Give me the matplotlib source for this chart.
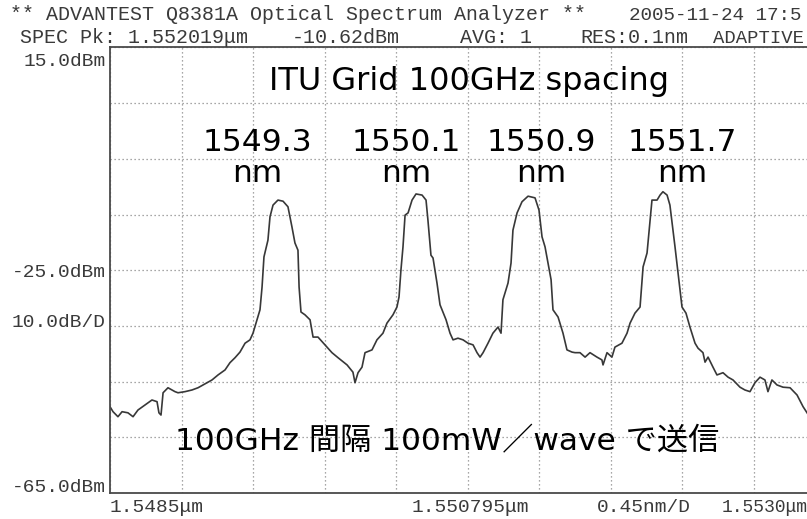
import matplotlib.pyplot as plt
import numpy as np

# Trace (wavelength in nm, power in dBm)
wavelength_nm = [
    1548.500, 1548.519, 1548.550, 1548.576, 1548.613, 1548.645, 1548.676, 1548.720,
    1548.764, 1548.796, 1548.808, 1548.821, 1548.834, 1548.865, 1548.909, 1548.928,
    1548.972, 1549.016, 1549.054, 1549.098, 1549.142, 1549.180, 1549.224, 1549.255,
    1549.287, 1549.318, 1549.350, 1549.381, 1549.400, 1549.425, 1549.444, 1549.457,
    1549.469, 1549.494, 1549.507, 1549.526, 1549.557, 1549.589, 1549.620, 1549.645,
    1549.664, 1549.683, 1549.690, 1549.702, 1549.727, 1549.759, 1549.778, 1549.809,
    1549.853, 1549.897, 1549.935, 1549.992, 1550.029, 1550.042, 1550.061, 1550.086,
    1550.105, 1550.149, 1550.180, 1550.218, 1550.243, 1550.281, 1550.306, 1550.319,
    1550.331, 1550.344, 1550.357, 1550.376, 1550.401, 1550.426, 1550.464, 1550.489,
    1550.501, 1550.520, 1550.533, 1550.558, 1550.577, 1550.615, 1550.640, 1550.659,
    1550.690, 1550.722, 1550.753, 1550.785, 1550.810, 1550.829, 1550.848, 1550.879,
    1550.910, 1550.942, 1550.961, 1550.973, 1551.005, 1551.024, 1551.036, 1551.062,
    1551.093, 1551.131, 1551.175, 1551.200, 1551.219, 1551.238, 1551.257, 1551.276,
    1551.288, 1551.320, 1551.351, 1551.376, 1551.408, 1551.427, 1551.458, 1551.490,
    1551.521, 1551.565, 1551.596, 1551.603, 1551.628, 1551.659, 1551.678, 1551.722,
    1551.754, 1551.773, 1551.804, 1551.836, 1551.855, 1551.880, 1551.899, 1551.911,
    1551.943, 1551.962, 1551.980, 1552.006, 1552.024, 1552.056, 1552.075, 1552.100,
    1552.125, 1552.150, 1552.182, 1552.201, 1552.232, 1552.245, 1552.264, 1552.295,
    1552.320, 1552.358, 1552.390, 1552.421, 1552.465, 1552.496, 1552.528, 1552.559,
    1552.591, 1552.622, 1552.641, 1552.666, 1552.698, 1552.736, 1552.780, 1552.824,
    1552.862, 1552.887, 1552.905,
]
power_dbm = [
    -49.5, -50.4, -51.3, -50.4, -50.6, -51.3, -50.1, -49.2,
    -48.3, -48.6, -50.6, -51.0, -47.0, -46.1, -46.8, -47.0,
    -46.8, -46.5, -46.1, -45.4, -44.7, -43.8, -42.9, -41.6,
    -40.7, -39.7, -38.1, -37.5, -36.3, -33.9, -32.1, -28.0,
    -22.6, -19.6, -15.4, -13.3, -12.4, -12.6, -13.6, -17.2,
    -20.1, -21.4, -28.0, -32.5, -33.0, -33.9, -37.0, -37.0,
    -38.4, -39.8, -40.7, -42.0, -43.3, -45.2, -43.4, -42.4,
    -39.8, -39.3, -37.5, -36.3, -34.5, -33.0, -31.6, -29.8,
    -25.0, -20.8, -15.1, -14.7, -12.4, -11.3, -11.5, -12.4,
    -16.0, -22.3, -22.8, -27.3, -31.2, -33.9, -36.3, -37.5,
    -37.2, -37.5, -38.1, -38.4, -39.8, -40.6, -39.8, -38.1,
    -36.3, -35.2, -36.3, -30.3, -27.3, -23.7, -17.8, -14.7,
    -12.7, -11.7, -12.0, -14.2, -19.0, -20.8, -23.7, -26.7,
    -32.1, -33.4, -36.3, -39.3, -39.7, -39.8, -39.8, -40.6,
    -39.8, -40.6, -41.1, -42.0, -39.8, -40.6, -38.8, -38.1,
    -36.3, -34.5, -32.7, -31.6, -24.4, -21.9, -16.0, -12.4,
    -12.4, -11.5, -10.9, -11.5, -13.3, -20.8, -25.5, -31.6,
    -32.7, -35.2, -38.1, -39.0, -39.8, -41.5, -40.6, -42.4,
    -43.8, -43.4, -44.2, -44.7, -46.0, -46.5, -46.8, -45.2,
    -44.2, -44.7, -46.8, -44.7, -45.6, -46.0, -46.1, -47.4,
    -49.5, -50.6, -51.4,
]

channel_labels = ["1549.3", "1550.1", "1550.9", "1551.7"]
channel_x_px = [257, 406, 541, 682]

start_nm, span_per_div = 1548.5, 0.45
ref_dbm, db_per_div = 15.0, 10.0

W, H = 807, 519
fig = plt.figure(figsize=(W / 100, H / 100), dpi=100)
fig.patch.set_facecolor("white")


def fx(x):
    return x / W


def fy(y):
    return 1 - y / H


# plot frame (right edge runs off the scan)
ax = fig.add_axes([fx(110), fy(493), 715 / W, 445.5 / H])
ax.set_xlim(start_nm, start_nm + 10 * span_per_div)
ax.set_ylim(ref_dbm - 8 * db_per_div, ref_dbm)
ax.set_xticks(start_nm + span_per_div * np.arange(11))
ax.set_yticks(ref_dbm - db_per_div * np.arange(9))
ax.tick_params(length=0, labelbottom=False, labelleft=False)
ax.grid(True, color="#8a8a8a", linestyle=(0, (1, 2.2)), linewidth=0.9)
for s in ax.spines.values():
    s.set_color("#4a4a4a")
    s.set_linewidth(1.3)

ax.plot(wavelength_nm, power_dbm, color="#383838", linewidth=1.2)

# printer header and axis annotations
mono = dict(family="Liberation Mono", color="#3a3a3a")
fig.text(fx(10), fy(20), "** ADVANTEST Q8381A Optical Spectrum Analyzer **", size=14.4, **mono)
fig.text(fx(629), fy(20), "2005-11-24 17:5", size=13.9, **mono)
fig.text(fx(20), fy(43), "SPEC Pk: 1.552019\u03bcm", size=14.4, **mono)
fig.text(fx(292), fy(43), "-10.62dBm", size=14.4, **mono)
fig.text(fx(460), fy(43), "AVG: 1", size=14.4, **mono)
fig.text(fx(580), fy(43), "RES:0.1nm", size=14.4, **mono)
fig.text(fx(713), fy(43), "ADAPTIVE", size=13.6, **mono)

fig.text(fx(106), fy(66), "15.0dBm", size=14, ha="right", **mono)
fig.text(fx(106), fy(277), "-25.0dBm", size=14, ha="right", **mono)
fig.text(fx(106), fy(327), "10.0dB/D", size=14, ha="right", **mono)
fig.text(fx(106), fy(492), "-65.0dBm", size=14, ha="right", **mono)

fig.text(fx(110), fy(512), "1.5485\u03bcm", size=14, **mono)
fig.text(fx(412), fy(512), "1.550795\u03bcm", size=14, **mono)
fig.text(fx(597), fy(512), "0.45nm/D", size=14, **mono)
fig.text(fx(722), fy(512), "1.5530\u03bcm", size=13, **mono)

# overlay captions
fig.text(fx(469), fy(90), "ITU Grid 100GHz spacing", size=23, ha="center", family="DejaVu Sans")
for lab, xp in zip(channel_labels, channel_x_px):
    fig.text(fx(xp), fy(151), lab, size=22.5, ha="center", family="DejaVu Sans")
    fig.text(fx(xp), fy(182), "nm", size=22.5, ha="center", family="DejaVu Sans")

fig.text(fx(447), fy(450), "100GHz 間隔 100mW／wave で送信", size=22.5, ha="center",
         family=["DejaVu Sans", "Noto Sans CJK JP"])

fig.savefig("out.png", dpi=100)
